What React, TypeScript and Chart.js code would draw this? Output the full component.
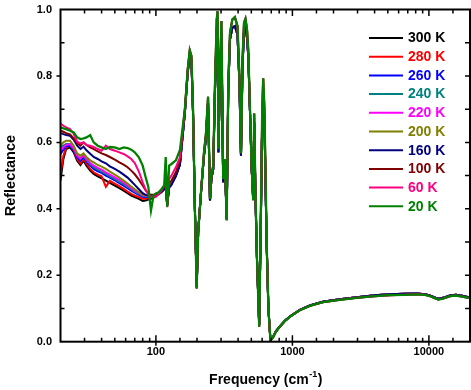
import React, { useEffect, useRef } from 'react';
import { Chart, registerables } from 'chart.js';

Chart.register(...registerables);

// ---------- data ----------
const seriesLabels = ['300 K', '280 K', '260 K', '240 K', '220 K', '200 K', '160 K', '100 K', '60 K', '20 K'];
const seriesColors = ['#000000', '#FF0000', '#0000FF', '#008080', '#FF00FF', '#808000', '#000080', '#800000', '#FF0080', '#008000'];

// low-frequency region (cm^-1), where the temperatures differ
const lowFreq = [20, 21, 22, 23.5, 25, 26.5, 28, 29.5, 31, 33, 35, 37.5, 40, 43, 46, 50, 54, 58, 62, 66, 70, 75, 80, 84, 88, 92, 96, 100, 105, 110, 115, 118, 121, 125, 130, 140, 150];

const r300 = [0.485, 0.55, 0.58, 0.585, 0.57, 0.545, 0.532, 0.545, 0.53, 0.515, 0.505, 0.498, 0.492, 0.485, 0.478, 0.47, 0.462, 0.455, 0.447, 0.44, 0.435, 0.43, 0.424, 0.425, 0.428, 0.43, 0.434, 0.438, 0.444, 0.45, 0.458, 0.47, 0.41, 0.465, 0.475, 0.5, 0.535];
const r280 = [0.505, 0.56, 0.585, 0.59, 0.575, 0.55, 0.537, 0.55, 0.536, 0.52, 0.51, 0.503, 0.498, 0.466, 0.484, 0.476, 0.468, 0.46, 0.452, 0.445, 0.44, 0.435, 0.43, 0.43, 0.432, 0.434, 0.437, 0.44, 0.446, 0.452, 0.46, 0.472, 0.412, 0.468, 0.478, 0.503, 0.538];
const r260 = [0.565, 0.578, 0.588, 0.59, 0.577, 0.555, 0.545, 0.556, 0.542, 0.53, 0.52, 0.513, 0.508, 0.5, 0.494, 0.486, 0.477, 0.47, 0.462, 0.455, 0.449, 0.442, 0.436, 0.435, 0.436, 0.437, 0.439, 0.441, 0.446, 0.452, 0.46, 0.47, 0.412, 0.466, 0.476, 0.5, 0.535];
const r240 = [0.585, 0.59, 0.595, 0.595, 0.58, 0.56, 0.55, 0.56, 0.546, 0.534, 0.525, 0.518, 0.512, 0.505, 0.498, 0.49, 0.481, 0.474, 0.466, 0.459, 0.452, 0.445, 0.439, 0.437, 0.438, 0.439, 0.44, 0.442, 0.447, 0.453, 0.461, 0.472, 0.413, 0.468, 0.478, 0.503, 0.538];
const r220 = [0.575, 0.585, 0.593, 0.594, 0.582, 0.56, 0.552, 0.562, 0.55, 0.538, 0.53, 0.523, 0.518, 0.51, 0.503, 0.495, 0.487, 0.479, 0.47, 0.462, 0.455, 0.448, 0.441, 0.439, 0.439, 0.44, 0.441, 0.443, 0.448, 0.454, 0.462, 0.474, 0.414, 0.47, 0.48, 0.505, 0.54];
const r200 = [0.59, 0.6, 0.605, 0.605, 0.59, 0.567, 0.56, 0.567, 0.556, 0.546, 0.54, 0.532, 0.527, 0.52, 0.512, 0.503, 0.494, 0.485, 0.476, 0.467, 0.459, 0.45, 0.443, 0.441, 0.44, 0.441, 0.442, 0.444, 0.449, 0.455, 0.463, 0.475, 0.414, 0.47, 0.48, 0.505, 0.54];
const r160 = [0.628, 0.625, 0.622, 0.62, 0.608, 0.59, 0.58, 0.587, 0.576, 0.566, 0.556, 0.55, 0.543, 0.537, 0.528, 0.52, 0.512, 0.503, 0.494, 0.483, 0.472, 0.459, 0.447, 0.442, 0.44, 0.44, 0.441, 0.443, 0.447, 0.452, 0.46, 0.47, 0.41, 0.463, 0.472, 0.498, 0.532];
const r100 = [0.635, 0.632, 0.628, 0.624, 0.612, 0.597, 0.59, 0.6, 0.592, 0.585, 0.58, 0.573, 0.567, 0.562, 0.556, 0.548, 0.54, 0.533, 0.525, 0.515, 0.504, 0.488, 0.47, 0.456, 0.446, 0.442, 0.442, 0.444, 0.449, 0.456, 0.465, 0.478, 0.413, 0.475, 0.485, 0.51, 0.545];
const r60 = [0.657, 0.65, 0.645, 0.64, 0.626, 0.602, 0.597, 0.6, 0.592, 0.59, 0.586, 0.58, 0.575, 0.59, 0.58, 0.575, 0.57, 0.565, 0.558, 0.55, 0.538, 0.512, 0.48, 0.458, 0.442, 0.436, 0.436, 0.436, 0.445, 0.456, 0.47, 0.485, 0.405, 0.49, 0.5, 0.525, 0.555];
const r20 = [0.645, 0.642, 0.64, 0.635, 0.63, 0.615, 0.61, 0.612, 0.615, 0.622, 0.6, 0.59, 0.585, 0.58, 0.586, 0.585, 0.58, 0.585, 0.583, 0.578, 0.57, 0.555, 0.53, 0.496, 0.466, 0.395, 0.44, 0.446, 0.45, 0.46, 0.47, 0.556, 0.406, 0.53, 0.535, 0.546, 0.577];

// phonon / high-frequency region
const highFreq = [163, 171, 177, 182, 187, 193, 199, 204, 214, 225, 232, 241, 249, 255, 263, 271, 279, 283, 287, 294, 302, 311, 320, 330, 339, 349, 363, 379, 396, 409, 420, 431, 442, 453, 465, 475, 489, 503, 516, 525, 536, 550, 571, 588, 601, 611, 624, 647, 667, 690, 719, 757, 809, 881, 959, 1135, 1343, 1671, 2226, 2971, 4018, 5178, 6668, 8128, 9350, 10160, 10890, 11700, 12670, 14260, 15780, 17460, 20000];
// low temperatures (100 K, 60 K, 20 K)
const highReflCold = [0.70, 0.82, 0.877, 0.86, 0.70, 0.40, 0.16, 0.33, 0.45, 0.57, 0.62, 0.737, 0.43, 0.50, 0.53, 0.78, 0.97, 0.995, 0.58, 0.80, 0.965, 0.49, 0.55, 0.366, 0.78, 0.93, 0.97, 0.977, 0.95, 0.80, 0.567, 0.85, 0.96, 0.972, 0.94, 0.877, 0.70, 0.526, 0.426, 0.687, 0.45, 0.25, 0.045, 0.40, 0.70, 0.793, 0.70, 0.305, 0.10, 0.005, 0.012, 0.03, 0.045, 0.062, 0.075, 0.095, 0.108, 0.119, 0.126, 0.132, 0.137, 0.14, 0.141, 0.1425, 0.141, 0.1375, 0.132, 0.127, 0.13, 0.137, 0.139, 0.136, 0.131];
// higher temperatures (300 K … 160 K)
const highReflWarm = [0.69, 0.81, 0.865, 0.85, 0.69, 0.40, 0.165, 0.33, 0.45, 0.56, 0.61, 0.72, 0.425, 0.49, 0.52, 0.76, 0.94, 0.96, 0.57, 0.78, 0.93, 0.48, 0.54, 0.37, 0.76, 0.91, 0.945, 0.95, 0.925, 0.78, 0.56, 0.83, 0.935, 0.945, 0.915, 0.86, 0.69, 0.52, 0.43, 0.66, 0.44, 0.25, 0.05, 0.38, 0.67, 0.74, 0.66, 0.30, 0.10, 0.006, 0.013, 0.031, 0.046, 0.063, 0.076, 0.096, 0.109, 0.12, 0.128, 0.134, 0.14, 0.143, 0.144, 0.145, 0.143, 0.139, 0.134, 0.129, 0.132, 0.139, 0.141, 0.138, 0.133];

const lowRefl = [r300, r280, r260, r240, r220, r200, r160, r100, r60, r20];
const highRefl = [highReflWarm, highReflWarm, highReflWarm, highReflWarm, highReflWarm, highReflWarm, highReflWarm, highReflCold, highReflCold, highReflCold];

const xTickLabels = [100, 1000, 10000];
const yTickLabels = [0, 0.2, 0.4, 0.6, 0.8, 1.0];

const FONT = '"Liberation Sans", Arial, Helvetica, sans-serif';

const framePlugin = {
  id: 'frameTicks',
  afterDatasetsDraw(chart: any) {
    const { ctx, chartArea: a, scales } = chart;
    const xs = scales.x;
    const ys = scales.y;
    ctx.save();
    ctx.strokeStyle = '#000';
    ctx.lineWidth = 1.5;
    ctx.beginPath();
    xs.ticks.forEach((t: any) => {
      const px = xs.getPixelForValue(t.value);
      if (px <= a.left + 1 || px >= a.right - 1) return;
      const lg = Math.log10(t.value);
      const major = Math.abs(lg - Math.round(lg)) < 1e-6;
      const up = major ? 6.5 : 4;
      ctx.moveTo(px, a.bottom + (major ? 4 : 0));
      ctx.lineTo(px, a.bottom - up);
      ctx.moveTo(px, a.top);
      ctx.lineTo(px, a.top + up);
    });
    ys.ticks.forEach((t: any) => {
      const py = ys.getPixelForValue(t.value);
      if (py <= a.top + 1 || py >= a.bottom - 1) return;
      const major = Math.round(t.value * 10) % 2 === 0;
      if (major) {
        ctx.moveTo(a.left - 4, py);
        ctx.lineTo(a.left, py);
      } else {
        ctx.moveTo(a.left, py);
        ctx.lineTo(a.left + 4, py);
      }
      ctx.moveTo(a.right - 5, py);
      ctx.lineTo(a.right, py);
    });
    ctx.stroke();
    ctx.lineWidth = 2;
    ctx.strokeRect(a.left, a.top, a.right - a.left, a.bottom - a.top);
    ctx.restore();
  },
  afterDraw(chart: any) {
    const { ctx, chartArea: a } = chart;
    ctx.save();
    // legend
    ctx.font = `bold 14px ${FONT}`;
    ctx.textBaseline = 'middle';
    ctx.textAlign = 'left';
    seriesLabels.forEach((lab, i) => {
      const y = 38 + i * 18.7;
      ctx.strokeStyle = seriesColors[i];
      ctx.lineWidth = 2;
      ctx.beginPath();
      ctx.moveTo(369, y);
      ctx.lineTo(403, y);
      ctx.stroke();
      ctx.fillStyle = seriesColors[i];
      ctx.fillText(lab, 408, y + 0.5);
    });
    // x title with superscript
    ctx.fillStyle = '#000';
    ctx.textBaseline = 'alphabetic';
    const main = 'Frequency (cm';
    const sup = '-1';
    const close = ')';
    ctx.font = `bold 14px ${FONT}`;
    const w1 = ctx.measureText(main).width;
    const w3 = ctx.measureText(close).width;
    ctx.font = `bold 9px ${FONT}`;
    const w2 = ctx.measureText(sup).width;
    const cx = (a.left + a.right) / 2;
    const x0 = cx - (w1 + w2 + w3) / 2;
    const by = 384;
    ctx.font = `bold 14px ${FONT}`;
    ctx.fillText(main, x0, by);
    ctx.font = `bold 9px ${FONT}`;
    ctx.fillText(sup, x0 + w1 + 0.5, by - 7);
    ctx.font = `bold 14px ${FONT}`;
    ctx.fillText(close, x0 + w1 + w2 + 1, by);
    // y title
    ctx.translate(10.5, (a.top + a.bottom) / 2);
    ctx.rotate(-Math.PI / 2);
    ctx.textAlign = 'center';
    ctx.textBaseline = 'middle';
    ctx.font = `bold 14.5px ${FONT}`;
    ctx.fillText('Reflectance', 0, 0);
    ctx.restore();
  },
};

export default function App() {
  const ref = useRef<HTMLCanvasElement | null>(null);
  useEffect(() => {
    if (!ref.current) return;
    const datasets = seriesLabels.map((lab, s) => ({
      label: lab,
      data: [
        ...lowFreq.map((x, i) => ({ x, y: lowRefl[s][i] })),
        ...highFreq.map((x, i) => ({ x, y: highRefl[s][i] })),
      ],
      borderColor: seriesColors[s],
      backgroundColor: seriesColors[s],
      borderWidth: s === seriesLabels.length - 1 ? 2.3 : 2,
      pointRadius: 0,
      tension: 0,
      fill: false,
      order: seriesLabels.length - s,
    }));
    const zeroPad = (s: any) => {
      s.paddingLeft = 0;
      s.paddingRight = 0;
      s.paddingTop = 0;
      s.paddingBottom = 0;
    };
    const chart = new Chart(ref.current, {
      type: 'line',
      data: { datasets },
      plugins: [framePlugin],
      options: {
        responsive: false,
        animation: false,
        parsing: true,
        layout: { padding: { top: 9.5, right: 1, left: 0, bottom: 0 } },
        plugins: { legend: { display: false }, tooltip: { enabled: false } },
        scales: {
          x: {
            type: 'logarithmic',
            min: 20,
            max: 20000,
            grid: { display: false, drawTicks: false },
            border: { display: false },
            ticks: {
              autoSkip: false,
              maxRotation: 0,
              padding: 4,
              color: '#000',
              font: { family: FONT, size: 11, weight: 'bold' },
              callback: (v: any) => (xTickLabels.some((t) => Math.abs(t - Number(v)) < 1e-6) ? String(Math.round(Number(v))) : ''),
            },
            afterFit: (s: any) => {
              s.height = 48.3;
              zeroPad(s);
            },
          },
          y: {
            type: 'linear',
            min: 0,
            max: 1,
            grid: { display: false, drawTicks: false },
            border: { display: false },
            ticks: {
              stepSize: 0.1,
              padding: 8.5,
              color: '#000',
              font: { family: FONT, size: 11, weight: 'bold' },
              callback: (v: any) => (yTickLabels.some((t) => Math.abs(t - Number(v)) < 1e-6) ? Number(v).toFixed(1) : ''),
            },
            afterFit: (s: any) => {
              s.width = 60.5;
              zeroPad(s);
            },
          },
        },
      },
    });
    return () => chart.destroy();
  }, []);
  return (
    <canvas
      ref={ref}
      width={471}
      height={390}
      style={{ position: 'fixed', left: 0, top: 0, width: 471, height: 390 }}
    />
  );
}
